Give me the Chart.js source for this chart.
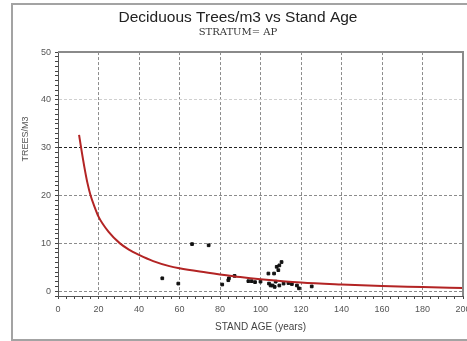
<!DOCTYPE html>
<html>
<head>
<meta charset="utf-8">
<script src="https://cdn.jsdelivr.net/npm/chart.js@4.4.0/dist/chart.umd.min.js"></script>
<style>
  html, body { margin: 0; padding: 0; background: #fff; overflow: hidden; width: 467px; height: 341px; }
  #frame { position: absolute; left: 11px; top: 3px; width: 470px; height: 334px; border: 2px solid #a3a3a3; }
  #wrap { position: absolute; left: 0; top: 0; width: 464px; height: 330px; }
</style>
</head>
<body>
<div id="frame"><div id="wrap"><canvas id="chart"></canvas></div></div>
<script>
// fitted curve
const curveAge   = [10.4, 11.4, 13, 14.5, 16.1, 18, 20, 25, 30.6, 35, 40, 47, 55, 60, 70, 80, 90, 100, 120, 140, 160, 180, 200];
const curveValue = [32.7, 30, 26, 22.7, 20, 17.7, 15.6, 12.4, 10, 8.7, 7.6, 6.3, 5.25, 4.8, 4.1, 3.5, 2.95, 2.5, 1.8, 1.4, 1.1, 0.88, 0.65];

// observed stands
const obsAge   = [51.5, 59.4, 66.2, 74.4, 81.1, 84.1, 84.4, 87.2, 94, 95.6, 97.3, 100, 103.9, 104.2, 105, 106, 106.7, 107, 107.5, 108, 108.8, 109.3, 109.3, 110.4, 111.4, 113.8, 115.5, 118, 119, 125.3];
const obsValue = [2.7, 1.6, 9.85, 9.6, 1.4, 2.3, 2.7, 3.2, 2.1, 2.1, 1.9, 2.0, 3.7, 1.6, 1.2, 1.2, 3.7, 0.9, 2.0, 5.1, 4.4, 5.4, 1.2, 6.1, 1.6, 1.7, 1.5, 1.2, 0.6, 1.0];

const xTickLabels = [0, 20, 40, 60, 80, 100, 120, 140, 160, 180, 200];
const yTickLabels = [0, 10, 20, 30, 40, 50];

const curvePoints = curveAge.map((a, i) => ({ x: a, y: curveValue[i] }));
const obsPoints = obsAge.map((a, i) => ({ x: a, y: obsValue[i] }));

const plotFrame = {
    id: 'plotFrame',
    afterDraw(chart) {
        const { ctx, chartArea: a } = chart;
        ctx.save();
        ctx.strokeStyle = '#8a8a8a';
        ctx.lineWidth = 2;
        ctx.beginPath();
        ctx.moveTo(a.left, a.top);
        ctx.lineTo(a.right, a.top);
        ctx.lineTo(a.right, a.bottom);
        ctx.stroke();
        // y axis title sits above the middle, as in the original
        ctx.translate(13, 134);
        ctx.rotate(-Math.PI / 2);
        ctx.fillStyle = '#555';
        ctx.font = '9px "Liberation Sans", Arial, sans-serif';
        ctx.textAlign = 'center';
        ctx.textBaseline = 'middle';
        ctx.fillText('TREES/M3', 0, 0);
        ctx.restore();
    }
};

new Chart(document.getElementById('chart'), {
    type: 'scatter',
    data: {
        datasets: [
            {
                label: 'Fitted',
                type: 'line',
                data: curvePoints,
                borderColor: '#b32424',
                borderWidth: 2,
                pointRadius: 0,
                cubicInterpolationMode: 'monotone',
                fill: false
            },
            {
                label: 'Observed',
                data: obsPoints,
                backgroundColor: '#111',
                borderColor: '#111',
                pointRadius: 1.9,
                pointStyle: 'rect'
            }
        ]
    },
    options: {
        responsive: true,
        maintainAspectRatio: false,
        animation: false,
        layout: { padding: { top: 0, right: 14, bottom: 0, left: 0 } },
        plugins: {
            legend: { display: false },
            tooltip: { enabled: false },
            title: {
                display: true,
                text: 'Deciduous Trees/m3 vs Stand Age',
                color: '#222',
                font: { family: '"Liberation Sans", Arial, sans-serif', size: 15.5, weight: 'normal', lineHeight: 1.1 },
                padding: { top: 4, bottom: 0 }
            },
            subtitle: {
                display: true,
                text: 'STRATUM= AP',
                color: '#333',
                font: { family: '"DejaVu Serif", serif', size: 10, lineHeight: 1.1 },
                padding: { top: 1, bottom: 14 }
            }
        },
        scales: {
            x: {
                type: 'linear',
                min: 0,
                max: 200,
                afterFit: s => { s.height = 39; },
                ticks: {
                    stepSize: 4,
                    autoSkip: false,
                    maxRotation: 0,
                    padding: 5,
                    color: '#555',
                    font: { family: '"Liberation Sans", Arial, sans-serif', size: 9 },
                    callback: v => xTickLabels.includes(v) ? String(v) : ''
                },
                grid: {
                    color: c => (c.tick && xTickLabels.includes(c.tick.value)) ? '#8c8c8c' : 'transparent',
                    tickColor: '#444',
                    tickLength: 3
                },
                border: { color: '#555', width: 1, dash: [3, 2] },
                title: {
                    display: true,
                    text: 'STAND AGE (years)',
                    color: '#444',
                    font: { family: '"Liberation Sans", Arial, sans-serif', size: 10 },
                    padding: { top: 4, bottom: 2 }
                }
            },
            y: {
                min: -1,
                max: 50,
                afterFit: s => { s.width = 45; },
                ticks: {
                    stepSize: 1,
                    autoSkip: false,
                    maxTicksLimit: 100,
                    padding: 4,
                    color: '#555',
                    font: { family: '"Liberation Sans", Arial, sans-serif', size: 9 },
                    callback: v => yTickLabels.includes(v) ? String(v) : ''
                },
                grid: {
                    color: c => {
                        if (!c.tick || !yTickLabels.includes(c.tick.value) || c.tick.value === 50) return 'transparent';
                        if (c.tick.value === 30) return '#222';
                        if (c.tick.value === 40) return '#cfcfcf';
                        return '#8c8c8c';
                    },
                    tickColor: '#444',
                    tickLength: 3
                },
                border: { color: '#555', width: 1, dash: [3, 2] }
            }
        }
    },
    plugins: [plotFrame]
});
</script>
</body>
</html>
